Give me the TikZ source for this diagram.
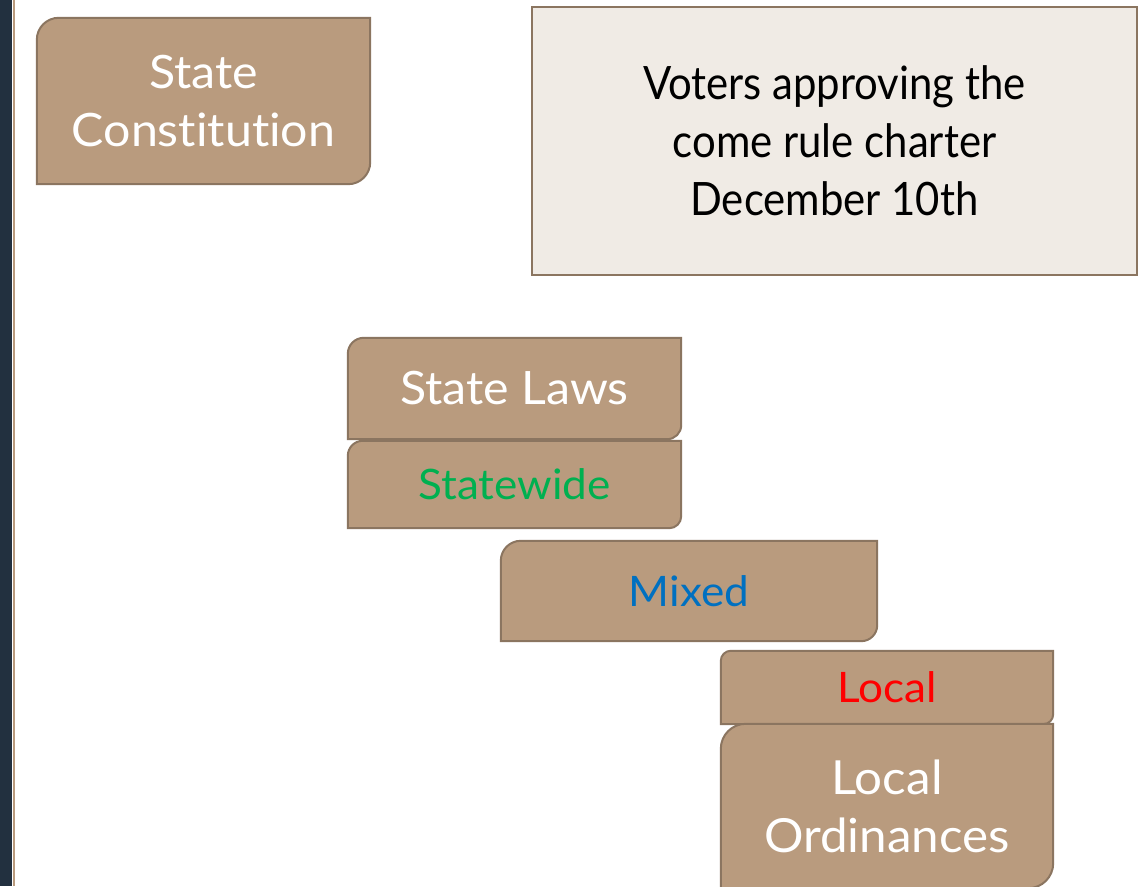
\documentclass[tikz,border=0pt]{standalone}
\usepackage{fontspec}
\setmainfont{Lato}[FakeStretch=1.05, Ligatures=NoCommon]
\newfontfamily\voterfont{Lato}[FakeStretch=0.91, Ligatures=NoCommon]
\usetikzlibrary{calc}
\pgfdeclarelayer{background}
\pgfsetlayers{background,main}
\definecolor{tanfill}{RGB}{185,155,126}
\definecolor{tanline}{RGB}{139,117,96}
\definecolor{navy}{RGB}{34,48,63}
\definecolor{paper}{RGB}{240,235,229}
\definecolor{grn}{RGB}{0,176,80}
\definecolor{blu}{RGB}{0,112,192}
\definecolor{rd}{RGB}{255,0,0}
\tikzset{
  boxnode/.style={inner sep=0pt, align=center, font=\fontsize{46}{58}\selectfont, text=white},
  bignode/.style={boxnode, font=\fontsize{47}{58}\selectfont},
  smallnode/.style={boxnode, font=\fontsize{42}{52}\selectfont},
  boxline/.style={fill=tanfill, draw=tanline, line width=2pt},
}
\newcommand{\tanbox}[3]{% node, TL radius, BR radius
  \begin{pgfonlayer}{background}
  \draw[boxline] (#1.south west) -- ([yshift=-#2]#1.north west) arc[start angle=180,end angle=90,radius=#2] -- (#1.north east) -- ([yshift=#3]#1.south east) arc[start angle=0,end angle=-90,radius=#3] -- cycle;
  \end{pgfonlayer}}
\begin{document}
\begin{tikzpicture}[x=1pt,y=1pt]
\useasboundingbox (0,0) rectangle (1147,886);
\clip (0,0) rectangle (1147,886);
\begin{pgfonlayer}{background}
\fill[white] (0,0) rectangle (1147,886);
\fill[navy] (0,0) rectangle (12,886);
\fill[tanfill] (13,0) rectangle (15,886);
\end{pgfonlayer}

\node[boxnode, minimum width=333pt, minimum height=166pt] (sc) at (203.5,785) {State\\Constitution};
\tanbox{sc}{22pt}{22pt}

\node[boxnode, font=\voterfont\fontsize{46}{58}\selectfont, text=black, minimum width=605pt, minimum height=268pt, fill=paper, draw=tanline, line width=2pt] (voters) at (834.5,745) {Voters approving the\\come rule charter\\December 10th};

\node[boxnode, minimum width=333pt, minimum height=101pt] (laws) at (514.5,497.5) {State Laws};
\tanbox{laws}{16pt}{14pt}

\node[smallnode, text=grn, minimum width=333pt, minimum height=87pt] (statewide) at (514.5,401.5) {Statewide};
\tanbox{statewide}{15pt}{12pt}

\node[smallnode, text=blu, minimum width=376pt, minimum height=100pt] (mixed) at (689,295) {Mixed};
\tanbox{mixed}{20pt}{16pt}

\node[smallnode, text=rd, minimum width=332pt, minimum height=73pt] (local) at (887,198.5) {Local};
\tanbox{local}{10pt}{10pt}

\node[bignode, minimum width=332pt, minimum height=164pt] (ord) at (887,80) {Local\\Ordinances};
\tanbox{ord}{25pt}{25pt}
\end{tikzpicture}
\end{document}
